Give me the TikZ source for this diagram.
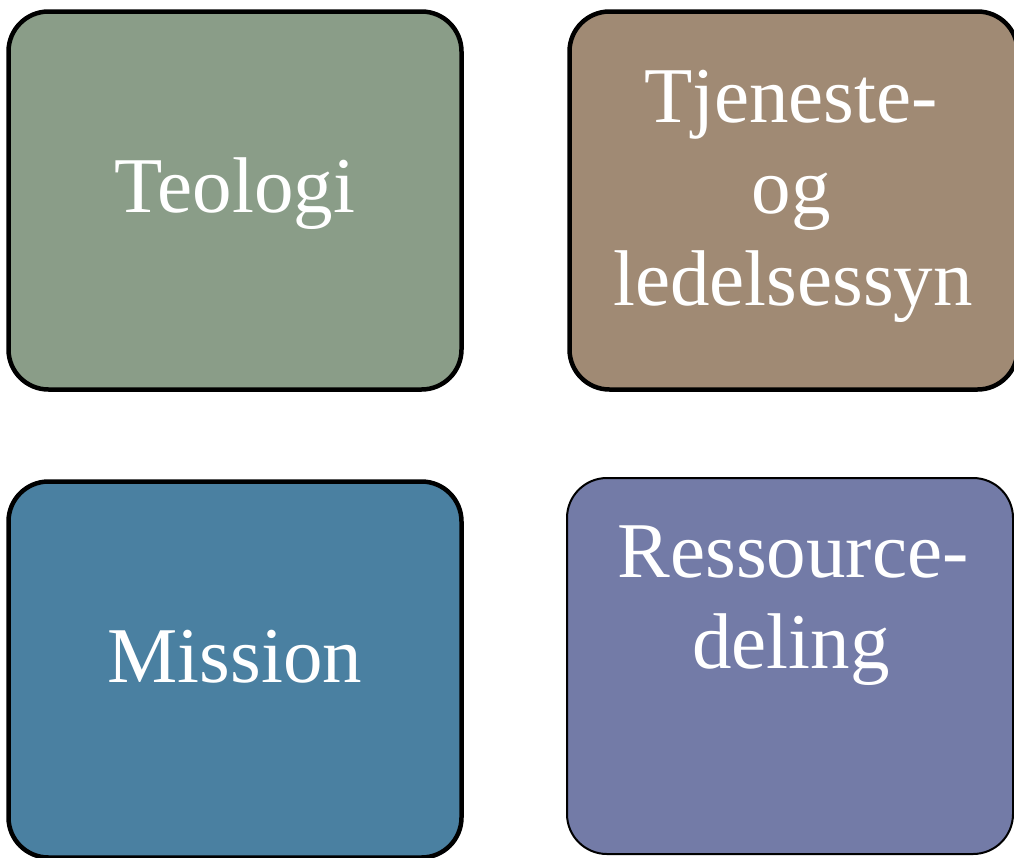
\documentclass[tikz,border=0pt]{standalone}
\usepackage{fontspec}
\setmainfont{Liberation Serif}
\tikzset{
  tile/.style={draw=black, line width=4.5pt, rounded corners=40pt, inner sep=0pt, outer sep=0pt},
  thintile/.style={draw=black, line width=2pt, rounded corners=40pt, inner sep=0pt, outer sep=0pt},
  word/.style={anchor=base, text=white, inner sep=0pt, font=\fontsize{79}{91}\selectfont}
}
\definecolor{cgreen}{HTML}{8A9D88}
\definecolor{cbrown}{HTML}{A08A74}
\definecolor{cblue}{HTML}{4A80A1}
\definecolor{cpurple}{HTML}{737BA7}
\begin{document}
\begin{tikzpicture}[x=1pt,y=-1pt]
\useasboundingbox (0,0) rectangle (1014,857);
\node[tile, fill=cgreen, minimum width=453pt, minimum height=378pt] (b1) at (235,200.5) {};
\node[tile, fill=cbrown, minimum width=448pt, minimum height=378pt] (b2) at (793.5,200.5) {};
\node[tile, fill=cblue, minimum width=453pt, minimum height=376pt] (b3) at (235,669.5) {};
\node[thintile, fill=cpurple, minimum width=446pt, minimum height=376pt] (b4) at (790,666) {};
\node[word] (t1) at (235,212) {Teologi};
\node[word] (t2a) at (791,122) {Tjeneste-};
\node[word] (t2b) at (791,213) {og};
\node[word] (t2c) at (793,305) {ledelsessyn};
\node[word] (t3) at (235,682) {Mission};
\node[word] (t4a) at (793,577) {Ressource-};
\node[word] (t4b) at (791,668) {deling};
\end{tikzpicture}
\end{document}
